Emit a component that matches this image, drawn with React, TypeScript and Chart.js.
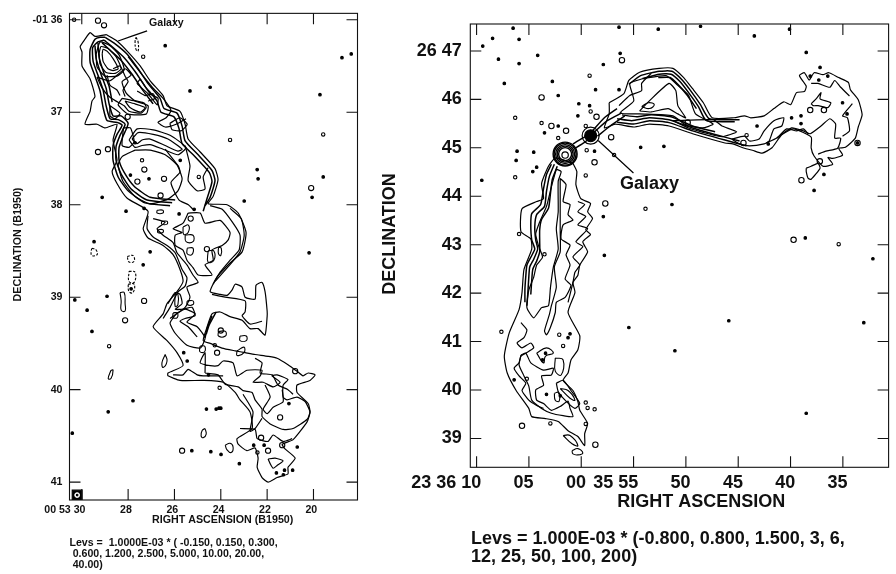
import React, { useEffect, useRef } from "react";
import { Chart, registerables } from "chart.js";

Chart.register(...registerables);

type Pt = [number, number];

// ---------- LEFT MAP: RA seconds (00 53 xx), Dec minutes (-01 xx) ----------
const leftRaTicks = [30, 28, 26, 24, 22, 20];
const leftRaLabels = ["00 53 30", "28", "26", "24", "22", "20"];
const leftDecTicks = [36, 37, 38, 39, 40, 41];
const leftDecLabels = ["-01 36", "37", "38", "39", "40", "41"];

const leftOuter: Pt[] = [[28.95,36.16],[28.48,36.23],[28.0,36.35],[27.48,36.5],[27.05,36.66],[26.49,36.82],[26.32,36.93],[25.76,36.99],[25.54,37.13],[25.41,37.29],[24.89,37.43],[24.25,37.61],[24.12,37.73],[24.33,37.91],[24.55,37.99],[23.73,38.0],[23.25,38.09],[22.91,38.3],[23.08,38.51],[23.6,38.63],[24.16,38.78],[24.46,38.94],[24.03,38.97],[23.73,38.98],[23.51,38.92],[23.38,38.86],[23.08,38.89],[22.95,39.0],[22.52,39.02],[22.48,38.87],[22.22,38.84],[22.09,38.94],[22.0,39.15],[22.0,39.21],[22.09,39.41],[22.39,39.34],[22.74,39.34],[23.08,39.25],[23.6,39.21],[24.03,39.16],[24.38,39.18],[24.59,39.32],[24.76,39.47],[24.46,39.5],[23.95,39.55],[23.38,39.58],[22.95,39.6],[22.52,39.62],[21.96,39.64],[21.57,39.66],[21.1,39.73],[20.71,39.8],[20.45,39.85],[20.23,39.82],[19.93,39.84],[20.15,39.9],[20.71,39.95],[20.71,40.03],[20.23,40.15],[20.15,40.24],[20.27,40.345],[20.88,40.54],[21.35,40.59],[21.23,40.64],[20.79,40.74],[21.1,40.84],[21.1,40.91],[21.57,40.95],[21.96,41.0],[22.22,40.95],[22.43,40.84],[22.39,40.74],[22.52,40.63],[22.87,40.66],[23.25,40.59],[23.3,40.53],[22.65,40.42],[22.74,40.24],[23.17,40.11],[23.38,40.03],[23.9,39.92],[24.76,39.9],[25.76,39.9],[26.28,39.85],[26.28,39.82],[25.63,39.74],[25.89,39.6],[26.32,39.47],[26.92,39.32],[26.49,39.18],[26.32,39.07],[25.89,38.94],[25.63,38.83],[25.76,38.7],[26.06,38.54],[26.49,38.44],[27.14,38.36],[27.35,38.26],[27.14,38.07],[28.04,37.93],[28.48,37.77],[28.69,37.64],[28.48,37.52],[28.65,37.3],[28.48,37.13],[28.99,37.17],[29.34,37.13],[29.86,37.13],[29.64,36.99],[29.56,36.88],[29.43,36.83],[29.64,36.64],[29.99,36.5],[29.99,36.35],[30.07,36.29],[29.86,36.21],[29.64,36.14],[29.43,36.18]];
const leftEdgeA: Pt[] = [[28.99,36.19],[28.56,36.26],[28.05,36.37],[27.57,36.53],[27.14,36.69],[26.62,36.85],[26.45,36.96],[25.89,37.01],[25.67,37.15],[25.54,37.31],[25.02,37.45],[24.38,37.63],[24.25,37.74],[24.46,37.92],[24.68,38.01]];
const leftEdgeB: Pt[] = [[29.04,36.22],[28.65,36.3],[28.17,36.41],[27.7,36.56],[27.27,36.72],[26.75,36.88],[26.58,37.0],[26.02,37.05],[25.8,37.18],[25.67,37.34],[25.15,37.47],[24.5,37.65],[24.38,37.75],[24.59,37.93],[24.76,38.07]];
const leftEdgeC: Pt[] = [[29.12,36.25],[28.78,36.33],[28.3,36.44],[27.83,36.59],[27.4,36.75],[26.92,36.91]];
const leftWestA: Pt[] = [[28.99,36.19],[29.21,36.19],[29.43,36.21],[29.64,36.32],[29.64,36.46],[29.43,36.61],[29.21,36.77],[29.08,36.95],[28.91,37.09],[28.48,37.11],[28.26,37.14],[28.48,37.24],[28.65,37.36],[28.65,37.52],[28.43,37.7],[28.0,37.85],[27.27,37.98],[26.19,38.01]];
const leftWestB: Pt[] = [[29.04,36.22],[29.3,36.24],[29.53,36.3],[29.51,36.45],[29.3,36.6],[29.08,36.76],[28.95,36.93],[28.78,37.07],[28.43,37.08],[28.13,37.13],[28.35,37.25],[28.52,37.37],[28.52,37.52],[28.3,37.67],[27.87,37.83],[27.18,37.95],[26.1,37.98]];
const leftWestC: Pt[] = [[29.43,36.28],[29.38,36.42],[29.17,36.59],[28.95,36.74],[28.82,36.91],[28.65,37.04],[28.3,37.04],[28.0,37.12],[28.22,37.26],[28.39,37.38],[28.39,37.52],[28.17,37.65],[27.74,37.8],[27.05,37.92],[25.97,37.95]];
const leftWestD: Pt[] = [[29.3,36.25],[29.25,36.41],[29.04,36.58],[28.82,36.72],[28.69,36.89]];
const leftCore1: Pt[] = [[29.12,36.37],[29.08,36.45],[28.87,36.53],[28.65,36.55],[28.43,36.53],[28.65,36.42],[28.91,36.34],[29.08,36.32]];
const leftCore2: Pt[] = [[29.25,36.36],[29.21,36.48],[28.95,36.57],[28.56,36.58],[28.3,36.53],[28.52,36.4],[28.86,36.31],[29.17,36.29]];
const leftCore3: Pt[] = [[29.38,36.37],[29.34,36.51],[29.0,36.61],[28.48,36.61],[28.17,36.54],[28.39,36.38],[28.78,36.28],[29.21,36.24]];
const leftInnerA: Pt[] = [[29.34,36.62],[29.12,36.74],[28.82,36.83],[28.52,36.88],[28.17,36.93],[27.96,36.99],[27.44,37.01],[27.22,36.95],[27.31,36.9],[27.74,36.87],[28.09,36.79],[28.26,36.67],[27.87,36.6],[28.13,36.53],[28.78,36.66]];
const leftIslandA: Pt[] = [[28.13,36.88],[27.7,36.91],[27.27,36.95],[27.48,37.0],[27.92,36.95]];
const leftIslandB: Pt[] = [[28.26,36.85],[27.7,36.88],[27.14,36.93],[27.22,37.02],[28.0,37.02],[28.43,36.92]];
const leftFingerA: Pt[] = [[27.48,36.64],[27.05,36.8],[26.71,36.85],[26.75,36.92],[27.14,36.8],[27.61,36.69]];
const leftFingerB: Pt[] = [[28.0,36.4],[27.44,36.58],[26.92,36.74],[26.49,36.85],[26.15,36.98],[26.36,37.06],[26.71,37.11],[26.4,37.16],[25.93,37.13],[25.5,37.07]];
const leftUpperA: Pt[] = [[27.61,36.77],[27.27,36.82],[26.92,36.8],[26.84,36.85],[27.14,36.88]];
const leftUpperB: Pt[] = [[28.91,36.6],[28.78,36.71],[28.48,36.76],[28.35,36.82]];
const leftUpperC: Pt[] = [[28.65,36.53],[28.35,36.5],[28.13,36.61],[28.0,36.67],[28.22,36.76],[28.13,36.83]];
const leftBlobA: Pt[] = [[26.2,37.12],[25.76,37.06],[25.45,37.13],[25.7,37.2],[26.1,37.19]];
const leftLoopA: Pt[] = [[28.78,36.93],[28.35,37.01],[28.56,37.07],[28.78,37.04]];
const leftCrescentA: Pt[] = [[27.83,37.29],[27.57,37.22],[26.92,37.24],[26.28,37.29],[25.67,37.4],[25.85,37.42],[26.4,37.36],[27.05,37.29],[27.4,37.3],[27.61,37.34]];
const leftCrescentB: Pt[] = [[27.96,37.3],[27.61,37.18],[26.92,37.19],[26.19,37.25],[25.5,37.38],[25.85,37.46],[26.49,37.4],[27.05,37.35],[27.4,37.36],[27.7,37.38]];
const leftRing: Pt[] = [[27.7,37.41],[27.05,37.41],[26.4,37.46],[25.89,37.57],[25.67,37.72],[25.85,37.85],[26.28,37.94],[27.05,37.99],[27.7,37.91],[28.22,37.75],[28.43,37.57],[28.26,37.48]];
const leftRingIn: Pt[] = [[28.2,37.17],[28.26,37.36],[27.96,37.38],[27.74,37.32],[27.9,37.17]];
const leftSide: Pt[] = [[26.4,37.4],[25.84,37.58],[25.76,37.65],[26.15,37.76],[25.8,37.95],[25.4,38.0],[25.2,38.05]];
const leftSideB: Pt[] = [[25.54,37.36],[25.33,37.58],[25.41,37.74],[25.02,37.85],[24.68,37.83],[24.76,37.7],[24.55,37.6]];
const leftLobeIn: Pt[] = [[25.41,38.09],[24.89,38.09],[24.68,38.2],[24.03,38.17],[23.6,38.3],[23.68,38.38],[23.94,38.44],[24.38,38.49],[24.33,38.6],[24.68,38.65],[24.38,38.76],[24.98,38.76],[25.2,38.68],[25.46,38.6],[25.63,38.49],[25.97,38.44],[25.97,38.33],[25.67,38.3],[26.06,38.26],[25.63,38.2]];
const leftLobeB: Pt[] = [[24.46,38.01],[23.94,38.05],[23.47,38.2],[23.17,38.33],[23.21,38.49],[23.6,38.6],[24.03,38.73],[24.33,38.86]];
const leftLobeC: Pt[] = [[23.6,38.04],[23.12,38.15],[22.99,38.33],[23.17,38.51],[23.68,38.67],[24.25,38.83]];
const leftNeckW: Pt[] = [[27.14,38.12],[27.18,38.26],[26.92,38.35],[26.32,38.44],[25.97,38.52],[25.67,38.7],[25.46,38.79],[25.54,38.88],[25.84,38.94],[26.19,39.11],[26.49,39.23]];
const leftMidWiggle: Pt[] = [[26.92,38.15],[26.4,38.19],[26.75,38.26],[26.49,38.33],[26.06,38.41],[25.89,38.52],[25.46,38.65],[25.2,38.76],[24.98,38.84],[25.46,38.89],[25.33,39.0],[25.54,39.11],[26.19,39.23]];
const leftLowWiggle: Pt[] = [[26.28,39.07],[25.97,38.95],[25.76,38.97],[25.67,39.07],[25.97,39.13],[25.63,39.13],[25.24,39.11],[25.11,39.2],[25.54,39.23],[25.76,39.26],[25.41,39.32],[25.02,39.43]];
const leftLower: Pt[] = [[25.93,39.18],[25.54,39.13],[25.11,39.18],[25.46,39.27],[25.02,39.32],[24.68,39.44],[24.89,39.55],[25.46,39.52],[25.97,39.39],[26.19,39.28]];
const leftNeckA: Pt[] = [[24.38,39.2],[24.59,39.34],[24.68,39.44]];
const leftNeckB: Pt[] = [[24.2,39.16],[24.5,39.3],[24.63,39.4]];
const leftTail: Pt[] = [[24.68,39.82],[24.12,39.84],[23.81,39.94],[23.25,39.97],[23.04,40.01],[22.65,40.03],[22.52,40.11],[22.22,40.21],[22.22,40.29],[21.87,40.37],[21.31,40.43],[20.88,40.42],[20.27,40.32],[20.15,40.24],[20.36,40.13],[20.71,40.08],[21.14,40.11],[21.31,40.08],[21.31,39.95],[21.1,39.89],[21.57,39.84],[21.79,39.85],[21.44,39.92],[21.74,39.97],[22.17,39.92],[22.61,39.92],[22.3,39.85],[22.22,39.79],[22.87,39.79],[23.3,39.85],[23.47,39.71],[23.9,39.69],[24.12,39.74],[24.46,39.74],[24.89,39.71],[24.68,39.6]];
const leftTailB: Pt[] = [[22.52,39.66],[22.22,39.71],[22.3,39.82],[21.79,39.84],[21.53,39.95],[21.1,40.0],[20.88,40.05]];
const leftTailC: Pt[] = [[22.09,39.95],[21.87,40.08],[22.17,40.21],[22.0,40.26],[21.74,40.19],[21.31,40.13],[21.35,40.0]];
const leftTailD: Pt[] = [[23.17,40.42],[22.52,40.43],[22.43,40.53],[21.96,40.56],[21.74,40.49],[21.31,40.56],[20.92,40.53]];
const leftBase: Pt[] = [[26.06,39.84],[25.63,39.84],[25.41,39.78],[25.02,39.84],[24.76,39.85],[23.9,39.85]];
const leftJoin: Pt[] = [[24.38,38.97],[23.81,39.0],[22.95,39.04],[22.95,39.16],[23.08,39.2],[22.74,39.29],[22.22,39.26]];
const leftBranch: Pt[] = [[23.04,40.05],[22.61,40.24],[22.74,40.45],[22.52,40.42],[22.22,40.31]];
const leftBottom: Pt[] = [[21.96,40.75],[21.66,40.74],[21.31,40.77],[21.57,40.82],[21.74,40.85],[21.87,40.8]];
const leftLoops: Pt[][] = [
  [[26.4,39.62],[26.32,39.69],[26.49,39.76],[26.54,39.71]],
  [[28.35,38.95],[28.17,38.95],[28.13,39.07],[28.13,39.15],[28.3,39.14],[28.3,39.04]],
  [[28.74,39.79],[28.65,39.79],[28.74,39.88],[28.86,39.88]],
  [[24.68,40.42],[24.63,40.48],[24.76,40.52],[24.85,40.5],[24.8,40.44]],
  [[23.81,40.6],[23.6,40.58],[23.47,40.62],[23.55,40.68],[23.73,40.65]],
  [[25.63,38.24],[25.4,38.22],[25.41,38.3],[25.6,38.32]],
  [[25.54,38.33],[25.2,38.33],[25.2,38.4],[25.5,38.4]],
  [[25.45,38.47],[25.2,38.47],[25.25,38.54],[25.45,38.53]],
  [[24.55,38.5],[24.3,38.5],[24.3,38.6],[24.55,38.62]],
  [[24.1,38.46],[23.98,38.47],[24.0,38.55],[24.1,38.53]],
  [[25.97,38.97],[25.85,38.97],[25.85,39.08],[25.97,39.1]],
  [[25.45,39.04],[25.2,39.04],[25.2,39.08],[25.45,39.08]],
  [[26.06,39.17],[25.88,39.17],[25.88,39.22],[26.06,39.22]],
  [[24.1,39.37],[23.8,39.37],[23.8,39.42],[24.1,39.42]],
  [[23.17,39.42],[22.9,39.42],[22.9,39.47],[23.17,39.47]],
  [[23.3,39.58],[23.0,39.54],[23.0,39.6],[23.3,39.63]],
  [[24.9,39.53],[24.7,39.53],[24.7,39.59],[24.9,39.59]],
  [[26.75,38.06],[26.5,38.06],[26.5,38.09],[26.75,38.09]],
  [[26.55,38.18],[26.32,38.18],[26.32,38.21],[26.55,38.21]],
  [[26.72,38.27],[26.5,38.27],[26.5,38.3],[26.72,38.3]],
];
const leftNegative: Pt[][] = [
  [[27.66,36.19],[27.57,36.24],[27.57,36.34],[27.66,36.32],[27.7,36.24]],
  [[29.56,38.47],[29.38,38.49],[29.34,38.54],[29.56,38.55],[29.6,38.51]],
  [[28.04,38.56],[27.79,38.55],[27.74,38.61],[27.96,38.62]],
  [[27.96,38.72],[27.7,38.73],[27.74,38.84],[27.96,38.83]],
  [[28.0,38.86],[27.74,38.86],[27.79,38.95],[27.96,38.94]],
];
const leftRound: Pt[] = [[29.3,36.01],[29.04,36.06],[29.3,37.43],[28.87,37.4],[27.31,39.04],[28.13,39.25],[25.67,40.66],[20.1,37.82],[24.0,39.36],[20.79,39.8],[24.16,39.6],[21.44,40.3],[21.35,40.6],[22.26,40.52],[21.96,40.66],[28.02,37.05],[26.45,37.72],[27.3,37.62],[26.6,37.9],[27.6,37.75],[25.3,38.15],[24.6,38.48]];
const leftSmall: Pt[] = [[30.33,36.0],[23.6,37.3],[28.82,39.53],[27.35,36.4],[19.58,37.24],[24.05,39.98],[22.42,40.68],[24.26,39.52],[24.95,37.7],[27.4,37.52]];
const leftDots: Pt[] = [[26.4,36.28],[25.33,36.77],[24.46,36.73],[18.77,36.41],[18.37,36.37],[19.72,36.81],[22.43,37.62],[22.39,37.72],[19.58,37.7],[22.99,37.96],[29.12,37.92],[28.09,38.07],[27.31,38.04],[29.47,38.4],[27.35,38.65],[20.19,38.52],[30.3,39.03],[29.77,39.14],[29.56,39.37],[27.79,40.12],[28.86,40.24],[30.41,40.47],[28.91,38.99],[27.87,38.91],[27.05,38.51],[20.06,37.92],[25.6,39.6],[25.45,39.69],[24.53,39.84],[24.08,40.2],[24.0,40.2],[24.62,40.21],[24.2,40.21],[24.43,40.67],[23.99,40.7],[25.25,40.66],[22.58,40.6],[22.13,40.6],[21.06,40.15],[20.7,40.62],[21.25,40.87],[20.9,40.87],[21.6,40.9],[21.3,40.92],[23.2,40.8],[25.75,37.52],[27.1,37.72],[27.9,37.68],[27.7,37.33],[25.8,38.1],[25.15,38.05]];
const leftBeam: Pt[] = [[30.2,41.14]];
const leftLeader: Pt[] = [[28.43,36.23],[27.18,36.12]];

// ---------- RIGHT MAP: RA seconds from 23 36 00, Dec minutes (26 xx) ----------
const rightRaTicks = [10, 5, 0, -5, -10, -15, -20, -25];
const rightRaLabels = ["23 36 10", "05", "00", "35 55", "50", "45", "40", "35"];
const rightDecTicks = [47, 46, 45, 44, 43, 42, 41, 40, 39];
const rightDecLabels = ["26 47", "46", "45", "44", "43", "42", "41", "40", "39"];

const southOuter: Pt[] = [[0.79,44.68],[0.42,44.51],[0.51,44.24],[0.04,43.95],[-0.89,43.85],[-0.61,43.68],[-1.08,43.54],[-0.43,43.31],[-0.89,43.21],[-0.15,43.06],[-0.61,42.85],[0.14,42.58],[0.32,42.37],[0.79,42.22],[0.6,42.01],[1.26,41.6],[0.14,41.12],[0.32,40.83],[0.98,40.62],[1.26,40.35],[1.73,40.2],[0.79,39.99],[0.32,39.76],[0.14,39.58],[-0.61,39.31],[-0.33,39.1],[-0.33,38.85],[0.32,39.04],[1.26,39.16],[2.2,39.35],[3.41,39.41],[4.73,39.45],[5.01,39.62],[6.22,39.99],[7.07,40.35],[7.35,40.7],[6.88,41.18],[5.94,41.66],[5.66,42.01],[5.47,42.49],[4.73,42.91],[4.82,43.12],[5.76,43.27],[5.66,43.74],[4.26,43.89],[3.6,43.95],[3.79,44.26],[3.13,44.62],[2.47,44.79]];
const southEdgeA: Pt[] = [[2.85,44.66],[3.32,44.45],[3.6,44.16],[3.88,43.83],[4.73,43.64],[4.82,43.41],[4.73,43.1],[4.44,42.91],[4.82,42.74],[5.19,42.58],[5.29,42.37],[5.38,42.08],[5.38,41.81]];
const southEdgeB: Pt[] = [[2.57,44.66],[3.04,44.41],[3.32,44.1],[3.51,43.79],[4.26,43.62],[4.44,43.37],[4.35,43.1],[4.16,42.91],[4.54,42.7],[4.92,42.54],[5.01,42.33],[5.1,42.01],[5.19,41.74]];
const southEdgeC: Pt[] = [[2.29,44.62],[2.76,44.35],[2.94,44.06],[3.13,43.75],[3.79,43.52],[3.97,43.31],[3.97,43.06],[3.97,42.85],[4.26,42.66],[4.63,42.49],[4.73,42.26],[4.82,41.97]];
const southCore: Pt[] = [[2.38,44.56],[2.85,44.2],[3.32,43.79],[3.97,43.47],[4.35,43.22],[4.07,42.97],[3.7,42.74],[4.26,42.58],[4.54,42.33],[5.01,42.06],[5.19,41.7],[4.54,41.49],[3.79,41.7],[3.13,41.74],[2.94,42.12],[2.66,42.54],[2.2,42.91],[2.38,43.33],[2.2,43.68],[2.2,44.31],[1.92,44.51]];
const southChain: Pt[] = [[2.01,44.37],[1.45,44.24],[1.73,43.89],[1.07,43.83],[1.26,43.62],[0.79,43.51],[1.73,43.41],[1.92,43.12],[1.07,42.99],[1.45,42.79],[1.07,42.58],[1.54,42.29],[0.98,42.16],[1.54,41.91],[2.38,41.81],[2.48,41.6],[2.95,41.29],[3.32,41.14],[3.51,41.22],[3.04,41.56],[2.85,41.74],[2.38,42.12],[2.57,42.54],[2.01,42.85],[2.01,43.27]];
const southWiggle: Pt[] = [[0.32,43.89],[-0.33,43.83],[0.32,43.68],[-0.43,43.58],[0.32,43.41],[-0.61,43.33],[0.51,43.06],[-0.15,42.96],[0.79,42.75],[0.14,42.58],[0.6,42.43],[0.79,42.22],[1.26,41.81]];
const southInnerW: Pt[] = [[5.76,41.39],[5.19,41.24],[5.47,41.08],[6.13,40.97],[5.66,40.87],[4.82,40.97],[4.54,40.87],[5.29,40.76],[5.76,40.7],[5.94,40.56],[6.41,40.45],[5.94,40.29],[5.29,40.14],[5.66,39.99],[5.01,39.79],[4.26,39.68],[3.6,39.62]];
const southBig: Pt[] = [[5.76,40.72],[5.29,40.76],[4.82,40.56],[3.6,40.41],[2.67,40.45],[2.85,40.31],[3.79,40.29],[3.6,40.1],[4.35,40.0],[4.26,39.79],[3.6,39.72],[2.85,39.58],[2.01,39.66],[1.26,39.77],[1.07,39.62],[0.79,39.45],[1.73,39.47],[2.85,39.52],[3.79,39.62],[4.73,39.79],[5.01,40.08],[5.47,40.29],[5.94,40.52]];
const southMidA: Pt[] = [[4.26,40.76],[3.32,40.87],[2.67,40.76],[3.41,40.7],[3.6,40.56]];
const southMidB: Pt[] = [[2.48,40.66],[1.73,40.62],[1.92,40.31],[2.48,40.39]];
const southLowA: Pt[] = [[2.38,40.14],[1.73,40.2],[0.98,39.99],[0.14,39.72],[0.6,39.62],[1.45,39.77],[2.2,39.97]];
const southLowB: Pt[] = [[2.01,40.03],[1.26,39.99],[0.6,39.79],[1.07,39.83]];
const southLowC: Pt[] = [[2.57,39.93],[2.2,39.95],[2.11,39.77],[2.48,39.79]];
const southLowD: Pt[] = [[1.73,39.06],[1.07,39.06],[0.32,38.85],[0.88,38.89]];
const southFlat: Pt[] = [[0.88,38.75],[0.32,38.79],[-0.15,38.7],[0.32,38.66],[0.79,38.68]];
const northOuter: Pt[] = [[-2.67,45.93],[-4.08,46.12],[-4.55,46.39],[-5.58,46.56],[-7.45,46.64],[-8.76,46.64],[-9.79,46.45],[-10.64,46.22],[-11.67,45.93],[-12.51,45.62],[-14.6,45.62],[-15.6,45.66],[-16.2,45.62],[-17.48,45.66],[-18.41,45.81],[-19.35,45.95],[-20.01,45.89],[-20.57,46.14],[-21.32,46.16],[-21.5,46.27],[-20.85,46.49],[-21.32,46.55],[-21.79,46.4],[-22.25,46.55],[-23.1,46.51],[-23.66,46.55],[-24.6,46.45],[-25.53,46.35],[-25.72,46.2],[-26.47,45.99],[-26.84,45.68],[-26.47,45.43],[-26.19,45.2],[-25.25,45.01],[-24.6,44.99],[-24.97,44.85],[-24.03,44.78],[-23.57,44.8],[-24.03,44.66],[-23.1,44.62],[-22.25,44.83],[-21.97,45.0],[-21.97,45.22],[-20.29,45.39],[-19.16,45.27],[-18.23,45.0],[-17.29,44.89],[-16.35,44.95],[-15.6,44.99],[-14.48,45.08],[-13.73,45.1],[-10.64,45.29],[-8.39,45.45],[-6.51,45.49],[-5.02,45.43],[-3.24,45.49],[-2.21,45.41],[-2.67,45.7]];
const northEdgeA: Pt[] = [[-4.55,46.31],[-5.67,46.49],[-7.45,46.58],[-8.67,46.58],[-9.6,46.41],[-10.45,46.18],[-11.39,45.89],[-12.23,45.6],[-15.13,45.58]];
const northEdgeB: Pt[] = [[-5.86,46.43],[-7.45,46.52],[-8.58,46.52],[-9.43,46.37],[-10.26,46.14],[-11.2,45.85],[-11.95,45.56],[-14.67,45.54]];
const northEdgeC: Pt[] = [[-7.36,46.45],[-8.49,46.45],[-9.23,46.31],[-10.07,46.1],[-11.01,45.81]];
const northLowA: Pt[] = [[-3.43,45.53],[-5.02,45.49],[-6.51,45.56],[-8.39,45.52],[-10.64,45.35],[-13.73,45.16],[-15.79,45.04]];
const northLowB: Pt[] = [[-3.43,45.6],[-4.83,45.56],[-6.51,45.62],[-8.39,45.58],[-10.64,45.41],[-13.73,45.22],[-15.13,45.14]];
const northLowC: Pt[] = [[-3.89,45.68],[-5.3,45.64],[-6.7,45.68],[-8.58,45.64],[-10.64,45.45],[-12.79,45.33]];
const northRing: Pt[] = [[-5.95,46.43],[-8.11,46.49],[-9.23,46.29],[-10.26,46.08],[-10.92,45.7],[-12.6,45.49],[-11.57,45.41],[-9.98,45.47],[-8.76,45.66],[-5.58,45.7],[-3.71,45.72],[-5.02,45.97],[-4.64,46.33]];
const northInner: Pt[] = [[-5.58,45.76],[-6.51,45.97],[-8.39,46.33],[-9.04,46.18],[-9.23,45.87],[-9.98,45.62],[-9.23,45.7],[-8.3,45.81],[-6.7,45.74]];
const northArm: Pt[] = [[-6.7,46.54],[-5.77,46.33],[-5.77,46.18],[-4.64,46.08],[-3.61,45.87]];
const northPeak: Pt[] = [[-5.77,45.85],[-6.42,45.93],[-6.98,45.89],[-6.51,45.81]];
const northTip: Pt[] = [[-8.76,45.56],[-10.26,45.41],[-12.14,45.29],[-13.45,45.23],[-14.85,45.33],[-13.45,45.45],[-12.6,45.58]];
const tailInner: Pt[] = [[-14.38,45.18],[-15.6,45.24],[-16.07,45.14],[-17.0,45.18],[-17.48,45.35],[-18.41,45.56],[-19.35,45.62],[-19.16,45.45],[-18.41,45.39],[-17.95,45.14],[-17.48,45.08],[-16.07,45.04],[-15.13,45.08]];
const eastBand: Pt[] = [[-18.69,45.2],[-20.1,45.41],[-21.22,45.35],[-21.88,45.29],[-22.91,45.45],[-23.75,45.6],[-24.31,45.49],[-24.22,45.2],[-24.79,45.2],[-24.5,44.99],[-23.38,44.93],[-22.63,44.87]];
const eastNeck: Pt[] = [[-17.67,45.1],[-18.69,45.2],[-19.63,45.39],[-20.57,45.35],[-21.22,45.39],[-21.69,45.29]];
const eastRim: Pt[] = [[-25.91,45.91],[-24.97,45.66],[-25.44,45.62],[-25.63,45.35],[-24.97,45.24]];
const eastTop: Pt[] = [[-21.97,46.33],[-22.63,46.33],[-23.75,46.25],[-24.22,46.39],[-24.79,46.25],[-25.63,46.07]];
const eastLoop: Pt[] = [[-21.97,45.91],[-22.44,46.01],[-22.91,46.14],[-22.82,46.01],[-23.85,45.93],[-23.56,45.83],[-22.63,45.87],[-22.16,45.87]];
const eastFinger: Pt[] = [[-21.5,44.58],[-21.97,44.62],[-22.63,44.68],[-22.82,44.58],[-21.97,44.35],[-21.69,44.37],[-21.5,44.51]];
const jetA: Pt[] = [[-1.27,45.33],[-2.49,45.56],[-3.89,45.72]];
const jetB: Pt[] = [[-1.55,45.24],[-2.77,45.45],[-4.17,45.66]];
const jetC: Pt[] = [[-1.08,45.35],[-2.21,45.62],[-3.42,45.81]];
const jetD: Pt[] = [[0.79,45.08],[0.04,45.18],[-0.8,45.28]];
const jetE: Pt[] = [[0.6,44.99],[-0.24,45.1],[-0.8,45.2]];
const rightHead: Pt[] = [[1.54,44.87]];
const rightCoreDot: Pt[] = [[-0.9,45.25]];
const rightHole: Pt[] = [[1.54,44.85]];
const rightRound: Pt[] = [[-3.89,46.81],[3.79,46.04],[2.85,45.45],[1.45,45.35],[-1.46,45.64],[-2.86,45.22],[-1.27,44.7],[-2.3,43.85],[-20.29,43.1],[-1.35,38.87],[5.66,39.26],[-21.88,45.78],[-10.17,45.52],[-23.19,45.78],[-15.5,45.1],[-26.4,45.1],[-22.8,44.72],[-21.04,44.33]];
const rightSmall: Pt[] = [[-0.8,46.49],[6.31,45.62],[3.79,45.51],[2.2,45.2],[-0.43,45.45],[-0.9,45.75],[-0.52,44.95],[6.31,44.39],[-0.43,44.43],[-6.14,43.74],[-24.6,43.01],[5.94,43.22],[3.51,42.8],[-3.14,44.85],[7.63,41.2],[2.95,39.31],[-1.28,39.6],[-0.43,39.74],[-0.61,39.63],[-0.43,39.3],[2.1,41.14],[1.73,40.91],[5.2,40.23],[-15.8,45.26]];
const rightDots: Pt[] = [[6.51,47.47],[8.47,47.26],[5.94,47.24],[-3.61,47.49],[-7.36,47.45],[-11.4,47.51],[-16.54,47.31],[-19.9,47.45],[9.41,47.1],[7.91,46.83],[4.16,46.91],[5.94,46.74],[-2.11,46.72],[-3.72,46.95],[7.35,46.33],[2.76,46.37],[2.2,46.08],[-1.37,46.2],[-3.61,46.2],[0.23,45.91],[-0.8,45.87],[0.32,45.66],[2.2,45.45],[3.51,45.31],[-5.68,45.01],[-7.9,45.03],[6.13,44.93],[4.54,44.91],[6.22,44.74],[4.26,44.6],[4.63,44.51],[9.5,44.33],[-2.11,43.58],[-2.21,42.78],[-8.67,43.83],[-21.41,43.14],[-27.87,42.71],[-21.5,46.97],[-4.55,41.29],[-14.1,41.43],[-27.0,41.39],[-8.95,40.81],[-21.5,39.52],[-1.27,44.93],[-22.82,46.66],[-22.25,44.12],[-23.19,44.45],[-24.97,45.93],[-25.4,45.7],[-21.0,45.66],[-21.0,45.5],[-17.87,45.08],[-16.8,45.45],[-20.1,45.62],[1.07,41.16],[1.26,41.08],[6.41,40.21],[3.32,39.91],[3.7,40.62],[3.41,40.76],[2.0,39.88],[-26.4,45.1],[-21.88,46.48],[-22.7,46.4],[-23.56,46.48]];
const rightLeader: Pt[] = [[-1.62,45.15],[-4.99,44.48]];

const BLACK = "#000";

function xy(pts: Pt[], closed = false) {
  const list = closed ? [...pts, pts[0]] : pts;
  return list.map(([x, y]) => ({ x, y }));
}
function line(pts: Pt[], closed: boolean, width = 1.2, dash: number[] = [], tension = 0.18) {
  return { data: xy(pts, closed), showLine: true, borderColor: BLACK, borderWidth: width, borderDash: dash, pointRadius: 0, tension, fill: false };
}
function points(pts: Pt[], radius: number, filled: boolean, width = 1.1, color = BLACK) {
  return { data: xy(pts), showLine: false, pointRadius: radius, pointBorderWidth: width, pointBorderColor: color, pointBackgroundColor: filled ? color : "transparent" } as any;
}

type Text = { t: string; x: number; y: number; size: number; rot?: boolean };

const frame = (texts: Text[], tick: number) => ({
  id: "frame",
  afterDraw(chart: any) {
    const { ctx, chartArea: a, scales } = chart;
    ctx.save();
    ctx.strokeStyle = "#111";
    ctx.lineWidth = 1.1;
    ctx.strokeRect(a.left, a.top, a.right - a.left, a.bottom - a.top);
    ctx.beginPath();
    for (const t of scales.x.ticks) {
      const p = scales.x.getPixelForValue(t.value);
      ctx.moveTo(p, a.top); ctx.lineTo(p, a.top + tick);
      ctx.moveTo(p, a.bottom); ctx.lineTo(p, a.bottom - tick);
    }
    for (const t of scales.y.ticks) {
      const p = scales.y.getPixelForValue(t.value);
      ctx.moveTo(a.left, p); ctx.lineTo(a.left + tick, p);
      ctx.moveTo(a.right, p); ctx.lineTo(a.right - tick, p);
    }
    ctx.stroke();
    ctx.fillStyle = "#111";
    ctx.textBaseline = "alphabetic";
    ctx.textAlign = "left";
    for (const s of texts) {
      ctx.font = `bold ${s.size}px "Liberation Sans"`;
      if (s.rot) {
        ctx.save();
        ctx.translate(s.x, s.y);
        ctx.rotate(-Math.PI / 2);
        ctx.textAlign = "center";
        ctx.fillText(s.t, 0, 0);
        ctx.restore();
      } else ctx.fillText(s.t, s.x, s.y);
    }
    ctx.restore();
  },
});

function makeChart(
  canvas: HTMLCanvasElement,
  datasets: any[],
  area: { left: number; top: number; right: number; bottom: number },
  xr: [number, number],
  yr: [number, number],
  reverseY: boolean,
  xT: number[], xL: string[], yT: number[], yL: string[],
  size: number, xPad: number, yPad: number, xOff: number,
  texts: Text[],
) {
  const font = { family: '"Liberation Sans"', weight: "bold" as const, size };
  return new Chart(canvas, {
    type: "scatter",
    data: { datasets },
    plugins: [frame(texts, 11)],
    options: {
      animation: false,
      responsive: false,
      devicePixelRatio: 1,
      layout: { padding: { left: 0, top: area.top, right: area.right, bottom: 0 } },
      plugins: { legend: { display: false }, tooltip: { enabled: false } },
      scales: {
        x: {
          type: "linear", reverse: true, min: xr[0], max: xr[1],
          grid: { display: false, drawTicks: false }, border: { display: false },
          afterBuildTicks: (s: any) => { s.ticks = xT.map((value) => ({ value })); },
          afterFit: (s: any) => { s.height = area.bottom; },
          ticks: {
            autoSkip: false, maxRotation: 0, minRotation: 0, color: "#111", font, padding: xPad,
            align: "end", labelOffset: xOff,
            callback: (v: any) => xL[xT.indexOf(v)] ?? "",
          },
        },
        y: {
          type: "linear", reverse: reverseY, min: yr[0], max: yr[1],
          grid: { display: false, drawTicks: false }, border: { display: false },
          afterBuildTicks: (s: any) => { s.ticks = yT.map((value) => ({ value })); },
          afterFit: (s: any) => { s.width = area.left; },
          ticks: {
            autoSkip: false, color: "#111", font, padding: yPad,
            callback: (v: any) => yL[yT.indexOf(v)] ?? "",
          },
        },
      },
    } as any,
  });
}

export default function App() {
  const leftRef = useRef<HTMLCanvasElement>(null);
  const rightRef = useRef<HTMLCanvasElement>(null);

  useEffect(() => {
    const leftClosed = [leftOuter, leftCore1, leftCore2, leftCore3, leftInnerA, leftIslandA, leftIslandB, leftFingerA, leftBlobA, leftLoopA, leftCrescentA, leftCrescentB, leftRing, leftRingIn, leftLobeIn, leftLower, leftTail, leftBottom];
    const leftOpen = [leftFingerB, leftUpperA, leftUpperB, leftUpperC, leftSide, leftSideB, leftLobeB, leftLobeC, leftNeckW, leftMidWiggle, leftLowWiggle, leftBase, leftJoin, leftBranch, leftTailB, leftTailC, leftTailD, leftLeader];
    const leftHeavy = [leftEdgeA, leftEdgeB, leftEdgeC, leftWestA, leftWestB, leftWestC, leftWestD, leftNeckA, leftNeckB];
    const beamBox = points(leftBeam, 7, true);
    beamBox.pointStyle = "rect";
    const leftSets = [
      points(leftBeam, 0.8, true),
      points(leftBeam, 2.4, true, 1, "#fff"),
      beamBox,
      points(leftDots, 1.3, true),
      points(leftSmall, 1.7, false),
      points(leftRound, 2.6, false),
      ...leftClosed.map((c) => line(c, true)),
      ...leftOpen.map((c) => line(c, false)),
      ...leftHeavy.map((c) => line(c, false, 1.5)),
      ...leftLoops.map((c) => line(c, true, 1.1, [], 0.45)),
      ...leftNegative.map((c) => line(c, true, 1.1, [2.5, 1.5], 0.45)),
    ];
    const left = makeChart(
      leftRef.current!, leftSets,
      { left: 69.5, top: 3.5, right: 14.5, bottom: 74 },
      [18.1, 30.53], [35.931, 41.193], true,
      leftRaTicks, leftRaLabels, leftDecTicks, leftDecLabels,
      10.6, 4, 7, 3.7,
      [
        { t: "Galaxy", x: 149, y: 26, size: 10.6 },
        { t: "RIGHT ASCENSION (B1950)", x: 152, y: 523, size: 10.7 },
        { t: "DECLINATION (B1950)", x: 20.5, y: 244.5, size: 10.7, rot: true },
        { t: "Levs =  1.0000E-03 * ( -0.150, 0.150, 0.300,", x: 69.5, y: 546, size: 10.6 },
        { t: "0.600, 1.200, 2.500, 5.000, 10.00, 20.00,", x: 72.7, y: 557, size: 10.6 },
        { t: "40.00)", x: 72.7, y: 568, size: 10.6 },
      ],
    );

    const rightClosed = [southOuter, southCore, southChain, southBig, southLowA, northOuter, northRing, northInner, northTip, tailInner, eastLoop, eastFinger];
    const rightLoops = [southMidA, southMidB, southLowB, southLowC, southLowD, southFlat, northPeak];
    const rightOpen = [southWiggle, southInnerW, northArm, eastBand, eastNeck, eastRim, eastTop, rightLeader];
    const rightHeavy = [southEdgeA, southEdgeB, southEdgeC, northEdgeA, northEdgeB, northEdgeC, northLowA, northLowB, northLowC];
    const jets = [jetA, jetB, jetC, jetD, jetE];
    const rightSets = [
      points(rightHole, 3.2, false, 1.2),
      points(rightCoreDot, 6, true),
      points(rightCoreDot, 8.5, false, 1.2),
      points(rightHead, 6.5, false, 1.4),
      points(rightHead, 8, false, 1.4),
      points(rightHead, 9.5, false, 1.4),
      points(rightHead, 11, false, 1.4),
      points(rightHead, 12, false, 1.4),
      points(rightDots, 1.3, true),
      points(rightSmall, 1.7, false),
      points(rightRound, 2.7, false),
      ...jets.map((c) => line(c, false, 1.5)),
      ...rightClosed.map((c) => line(c, true)),
      ...rightLoops.map((c) => line(c, true, 1.1, [], 0.45)),
      ...rightOpen.map((c) => line(c, false)),
      ...rightHeavy.map((c) => line(c, false, 1.5)),
    ];
    const right = makeChart(
      rightRef.current!, rightSets,
      { left: 98.3, top: 24, right: 5, bottom: 106.7 },
      [-29.37, 10.6], [38.404, 47.556], false,
      rightRaTicks, rightRaLabels, rightDecTicks, rightDecLabels,
      18, 5, 8.5, 4.7,
      [
        { t: "Galaxy", x: 248, y: 189.3, size: 18 },
        { t: "RIGHT ASCENSION", x: 245.3, y: 506.7, size: 18 },
        { t: "DECLINATION", x: 23, y: 234, size: 18, rot: true },
        { t: "Levs = 1.000E-03 * (-0.800, 0.800, 1.500, 3, 6,", x: 99, y: 544.3, size: 18 },
        { t: "12, 25, 50, 100, 200)", x: 99, y: 562.3, size: 18 },
      ],
    );
    return () => { left.destroy(); right.destroy(); };
  }, []);

  return (
    <div style={{ position: "fixed", left: 0, top: 0, width: 896, height: 574, overflow: "hidden", background: "#fff" }}>
      <canvas ref={leftRef} width={372} height={574} style={{ position: "absolute", left: 0, top: 0 }} />
      <canvas ref={rightRef} width={530} height={574} style={{ position: "absolute", left: 372, top: 0 }} />
    </div>
  );
}
